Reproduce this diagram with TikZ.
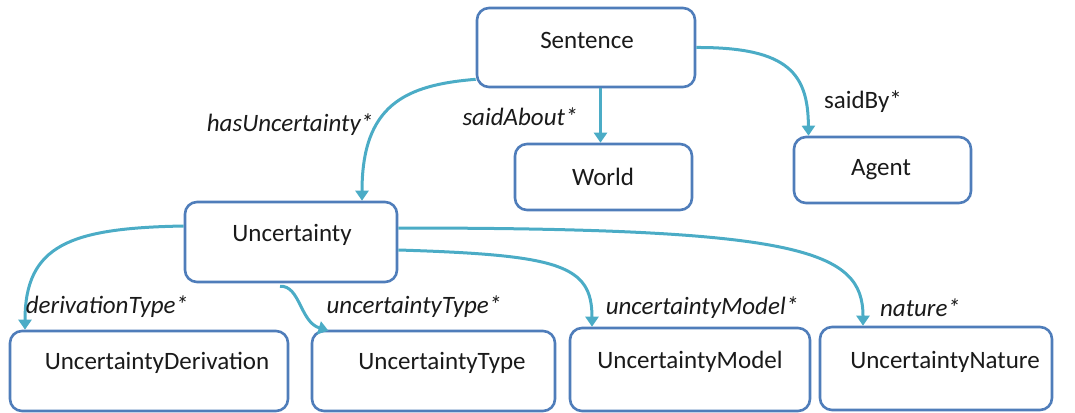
\documentclass[tikz,border=0pt]{standalone}
\usepackage{fontspec}
\setmainfont{Carlito}
\usetikzlibrary{arrows.meta}
\definecolor{boxblue}{HTML}{4F7DBA}
\definecolor{linkteal}{HTML}{4BACC6}
\definecolor{ink}{HTML}{1A1A1A}
\tikzset{
  box/.style={draw=boxblue, line width=2.6pt, rounded corners=12pt, fill=white},
  classname/.style={text=ink, font=\fontsize{25}{29}\selectfont, inner sep=0pt},
  rel/.style={text=ink, font=\fontsize{25}{29}\selectfont\itshape, inner sep=0pt},
  relup/.style={text=ink, font=\fontsize{25}{29}\selectfont, inner sep=0pt},
  link/.style={draw=linkteal, line width=3pt, -{Triangle[length=10pt,width=13pt]}}
}
\begin{document}
\begin{tikzpicture}[x=1pt, y=-1pt]
\useasboundingbox (0,0) rectangle (1075,412);

% class boxes
\node[box, minimum width=218pt, minimum height=79pt] (S) at (586,47.5) {};
\node[box, minimum width=177pt, minimum height=66pt] (W) at (603.5,177) {};
\node[box, minimum width=177pt, minimum height=66pt] (A) at (882.5,170) {};
\node[box, minimum width=212pt, minimum height=80pt] (U) at (291,242) {};
\node[box, minimum width=278pt, minimum height=80pt] (D) at (149,371) {};
\node[box, minimum width=243pt, minimum height=80pt] (T) at (433.5,371) {};
\node[box, minimum width=240pt, minimum height=83pt] (M) at (690,369.5) {};
\node[box, minimum width=232pt, minimum height=83pt] (N) at (936,368.5) {};

% class names
\node[classname] (St) at (587,40) {Sentence};
\node[classname] (Wt) at (603,177) {World};
\node[classname] (At) at (881,170) {Agent};
\node[classname] (Ut) at (292,235) {Uncertainty};
\node[classname] (Dt) at (157,363) {UncertaintyDerivation};
\node[classname] (Tt) at (442,363) {UncertaintyType};
\node[classname] (Mt) at (690,362) {UncertaintyModel};
\node[classname] (Nt) at (945,362) {UncertaintyNature};

% relations
\draw[link] ([yshift=9pt]S.south west) .. controls (405,85) and (362,105) .. ([xshift=71pt]U.north);
\draw[link] ([xshift=-3pt]S.south -| W.north) -- ([xshift=-3pt]W.north);
\draw[link] (S.east) .. controls (790,47) and (808,75) .. ([xshift=-74pt]A.north);
\draw[link] ([yshift=16pt]U.west) .. controls (70,228) and (25,245) .. ([xshift=-124pt]D.north);
\draw[link] ([xshift=-11pt,yshift=-3pt]U.south) .. controls (300,285) and (300,322) .. ([xshift=-105pt,yshift=-1pt]T.north);
\draw[link] ([yshift=-8pt]U.east) .. controls (560,255) and (592,265) .. ([xshift=-98pt]M.north);
\draw[link] ([yshift=14pt]U.east) .. controls (800,228) and (863,250) .. ([xshift=-73pt]N.north);

% relation labels
\node[rel] (l1) at (290,125) {hasUncertainty*};
\node[rel] (l2) at (520,117) {saidAbout*};
\node[relup] (l3) at (863,102) {saidBy*};
\node[rel] (l4) at (107,307) {derivationType*};
\node[rel] (l5) at (414,307) {uncertaintyType*};
\node[rel] (l6) at (702,308) {uncertaintyModel*};
\node[rel] (l7) at (920,308) {nature*};
\end{tikzpicture}
\end{document}
